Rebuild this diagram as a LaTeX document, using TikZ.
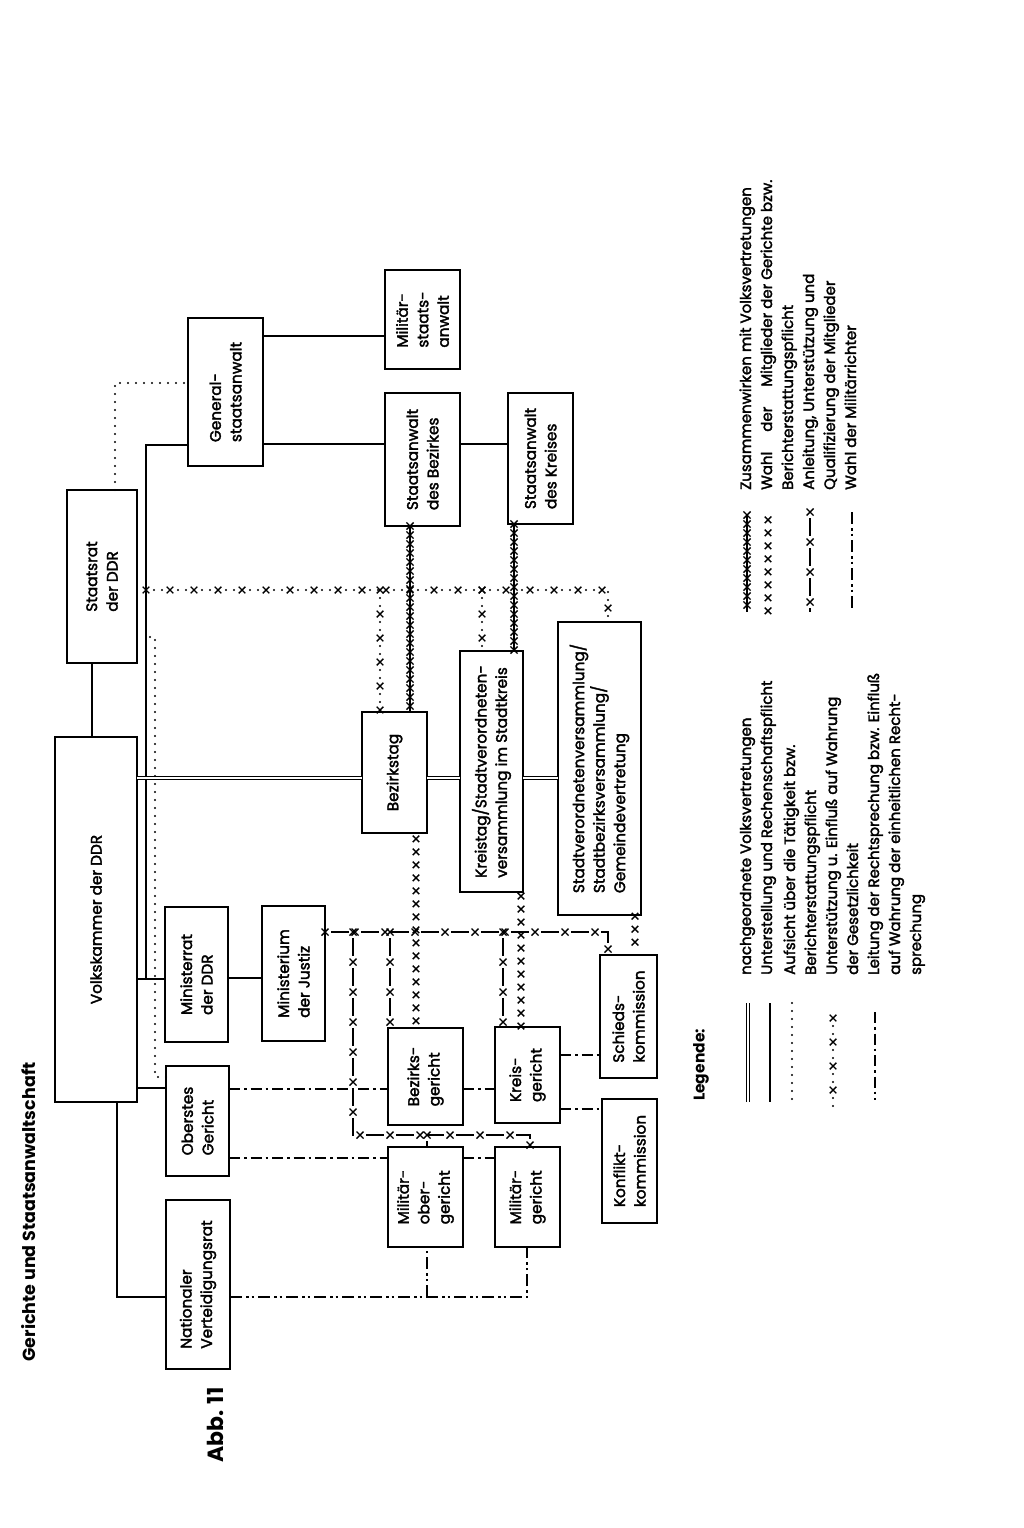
\documentclass[tikz,border=0pt]{standalone}
\usepackage{fontspec}
\setmainfont{Poppins}[UprightFeatures={FakeBold=2.2}]
\usetikzlibrary{decorations.markings}
\newcommand\xcr[1]{\draw[solid,line width=1.4pt,line cap=butt] (-#1,-#1)--(#1,#1) (-#1,#1)--(#1,-#1);}
\newcommand\bx[6]{\node[box, minimum width={(#5-#3)*1pt}, minimum height={(#4-#2)*1pt}] (#1) at ({(#2+#4)/2},{(#3+#5)/2}) {#6};}
\tikzset{
 box/.style={draw, line width=2pt, rotate=90, align=left, inner sep=0pt, outer sep=0pt, font=\fontsize{15.3}{20.5}\selectfont},
 ln/.style={line width=1.6pt},
 dbl/.style={double, double distance=1.8pt, line width=1.3pt},
 dotl/.style={line width=2.4pt, line cap=round, dash pattern=on 0pt off 8pt},
 dotx/.style={dotl, postaction={decorate, decoration={markings, mark=between positions 0 and 1 step 24pt with {\xcr{3.3pt}}}}},
 xdash/.style={ln, dash pattern=on 18pt off 12pt, dash phase=24pt, postaction={decorate, decoration={markings, mark=between positions 0 and 1 step 30pt with {\xcr{3.5pt}}}}},
 zus/.style={line width=2.2pt, postaction={decorate, decoration={markings, mark=between positions 0 and 1 step 9pt with {\xcr{3.6pt}}}}},
 xrow/.style={decorate, decoration={markings, mark=between positions 0.03 and 1 step 13pt with {\xcr{3.3pt}}}},
 dashdot/.style={ln, dash pattern=on 11pt off 4pt on 2.5pt off 4pt},
 dashdotdot/.style={ln, dash pattern=on 12pt off 4pt on 2.5pt off 3pt on 2.5pt off 4pt},
 legtext/.style={rotate=90, anchor=base west, inner sep=0pt, font=\fontsize{15}{21}\selectfont},
}
\begin{document}
\begin{tikzpicture}[x=1pt,y=-1pt]
\useasboundingbox[fill=white] (0,0) rectangle (1024,1528);
% title
\node[rotate=90, font=\bfseries\fontsize{17.5}{21}\selectfont] (title) at (29,1212) {Gerichte und Staatsanwaltschaft};
\node[rotate=90, font=\bfseries\fontsize{22}{27}\selectfont] (abb) at (215,1425) {Abb. 11};
% boxes
\bx{vk}{55}{737}{137}{1102}{Volkskammer der DDR}
\bx{sr}{67}{490}{137}{663}{Staatsrat\\der DDR}
\bx{gsa}{188}{318}{263}{466}{General-\\staatsanwalt}
\bx{msa}{385}{270}{460}{369}{Militär-\\staats-\\anwalt}
\bx{sab}{385}{393}{460}{526}{Staatsanwalt\\des Bezirkes}
\bx{sak}{508}{393}{573}{524}{Staatsanwalt\\des Kreises}
\bx{bt}{362}{712}{427}{833}{Bezirkstag}
\bx{kt}{460}{651}{523}{892}{Kreistag/Stadtverordneten-\\versammlung im Stadtkreis}
\bx{sv}{558}{622}{641}{915}{Stadtverordnetenversammlung/\\Stadtbezirksversammlung/\\Gemeindevertretung}
\bx{mr}{165}{907}{228}{1042}{Ministerrat\\der DDR}
\bx{mj}{262}{906}{325}{1041}{Ministerium\\der Justiz}
\bx{og}{166}{1066}{229}{1176}{Oberstes\\Gericht}
\bx{nvr}{166}{1200}{230}{1369}{Nationaler\\Verteidigungsrat}
\bx{bg}{388}{1028}{463}{1125}{Bezirks-\\gericht}
\bx{kg}{495}{1027}{560}{1123}{Kreis-\\gericht}
\bx{mog}{388}{1147}{463}{1247}{Militär-\\ober-\\gericht}
\bx{mg}{495}{1147}{560}{1247}{Militär-\\gericht}
\bx{sk}{600}{955}{657}{1078}{Schieds-\\kommission}
\bx{kk}{602}{1099}{657}{1223}{Konflikt-\\kommission}
% solid
\draw[ln] (sr.west -| 92,0) -- (vk.east -| 92,0);
\draw[ln] (gsa.north |- 0,445) -- (146,445) -- (146,979);
\draw[ln] (vk.south |- 0,979) -- (mr.north |- 0,979);
\draw[ln] (gsa.south |- 0,336) -- (msa.north |- 0,336);
\draw[ln] (gsa.south |- 0,444) -- (sab.north |- 0,444);
\draw[ln] (sab.south |- 0,444) -- (sak.north |- 0,444);
\draw[ln] (mr.south |- 0,978) -- (mj.north |- 0,978);
\draw[ln] (vk.south |- 0,1088) -- (og.north |- 0,1088);
\draw[ln] (vk.west -| 117,0) -- (117,1297) -- (nvr.north |- 0,1297);
% double
\draw[dbl] (vk.south |- 0,778) -- (bt.north |- 0,778);
\draw[dbl] (bt.south |- 0,778) -- (kt.north |- 0,778);
\draw[dbl] (kt.south |- 0,778) -- (sv.north |- 0,778);
% dotted
\draw[dotl] (sr.east -| 115,0) -- (115,383) -- (gsa.north |- 0,383);
\draw[dotl] (150,637) -- (155,637) -- (155,1077) -- (og.north |- 0,1077);
% dotted with x
\draw[dotx] (146,590) -- (608,590) -- (sv.east -| 608,0);
\draw[dotx] (380,590) -- (bt.east -| 380,0);
\draw[dotx] (482,590) -- (kt.east -| 482,0);
% Zusammenwirken
\draw[zus] (sab.west -| 410,0) -- (bt.east -| 410,0);
\draw[zus] (sak.west -| 514,0) -- (kt.east -| 514,0);
% Wahl der Mitglieder
\path[xrow] (bt.west -| 416,0) -- (bg.east -| 416,0);
\path[xrow] (kt.west -| 521,0) -- (kg.east -| 521,0);
\path[xrow] (sv.west -| 635,0) -- (sk.east -| 635,0);
% Anleitung
\draw[xdash] (mj.south |- 0,932) -- (608,932) -- (sk.east -| 608,0);
\draw[xdash] (353,932) -- (353,1135) -- (530,1135) -- (mg.east -| 530,0);
\draw[xdash] (390,932) -- (bg.east -| 390,0);
\draw[xdash] (503,932) -- (kg.east -| 503,0);
\draw[xdash] (427,1135) -- (mog.east -| 427,0);
% Leitung der Rechtsprechung
\draw[dashdot] (og.south |- 0,1089) -- (bg.north |- 0,1089);
\draw[dashdot] (bg.south |- 0,1089) -- (kg.north |- 0,1089);
\draw[dashdot] (kg.south |- 0,1055) -- (sk.north |- 0,1055);
\draw[dashdot] (kg.south |- 0,1109) -- (kk.north |- 0,1109);
\draw[dashdot] (og.south |- 0,1158) -- (mog.north |- 0,1158);
\draw[dashdot] (mog.south |- 0,1158) -- (mg.north |- 0,1158);
% Wahl der Militaerrichter
\draw[dashdotdot] (nvr.south |- 0,1297) -- (527,1297) -- (mg.west -| 527,0);
\draw[dashdotdot] (427,1297) -- (mog.west -| 427,0);
% legend
\node[rotate=90, font=\bfseries\fontsize{15.5}{21}\selectfont] (leg) at (701,1065) {Legende:};
\coordinate (a1) at (748,1003); \coordinate (b1) at (748,1102);
\coordinate (a2) at (770,1003); \coordinate (b2) at (770,1102);
\coordinate (a3) at (792,1003); \coordinate (b3) at (792,1102);
\coordinate (a4) at (833,1018); \coordinate (b4) at (833,1110);
\coordinate (a5) at (875,1012); \coordinate (b5) at (875,1100);
\draw[dbl] (a1) -- (b1);
\draw[ln] (a2) -- (b2);
\draw[dotl] (a3) -- (b3);
\draw[dotx] (a4) -- (b4);
\draw[dashdot] (a5) -- (b5);
\coordinate (c1) at (747,515); \coordinate (d1) at (747,612);
\coordinate (c2) at (768,517); \coordinate (d2) at (768,612);
\coordinate (c3) at (810,512); \coordinate (d3) at (810,612);
\coordinate (c4) at (852,512); \coordinate (d4) at (852,610);
\draw[zus] (c1) -- (d1);
\path[xrow] (c2) -- (d2);
\draw[xdash] (c3) -- (d3);
\draw[dashdotdot] (c4) -- (d4);
% legend texts
\node[legtext] (t1) at (751,975) {nachgeordnete Volksvertretungen};
\node[legtext] (t2) at (772,975) {Unterstellung und Rechenschaftspflicht};
\node[legtext] (t3) at (795,975) {Aufsicht über die Tätigkeit bzw.};
\node[legtext] (t4) at (816,975) {Berichterstattungspflicht};
\node[legtext] (t5) at (837,975) {Unterstützung u. Einfluß auf Wahrung};
\node[legtext] (t6) at (858,975) {der Gesetzlichkeit};
\node[legtext] (t7) at (879,975) {Leitung der Rechtsprechung bzw. Einfluß};
\node[legtext] (t8) at (900,975) {auf Wahrung der einheitlichen Recht-};
\node[legtext] (t9) at (921,975) {sprechung};
\node[legtext] (u1) at (751,490) {Zusammenwirken mit Volksvertretungen};
\node[legtext] (u2) at (772,490) {Wahl\hspace{20pt}der\hspace{20pt}Mitglieder der Gerichte bzw.};
\node[legtext] (u3) at (793,490) {Berichterstattungspflicht};
\node[legtext] (u4) at (814,490) {Anleitung, Unterstützung und};
\node[legtext] (u5) at (835,490) {Qualifizierung der Mitglieder};
\node[legtext] (u6) at (856,490) {Wahl der Militärrichter};
\end{tikzpicture}
\end{document}
